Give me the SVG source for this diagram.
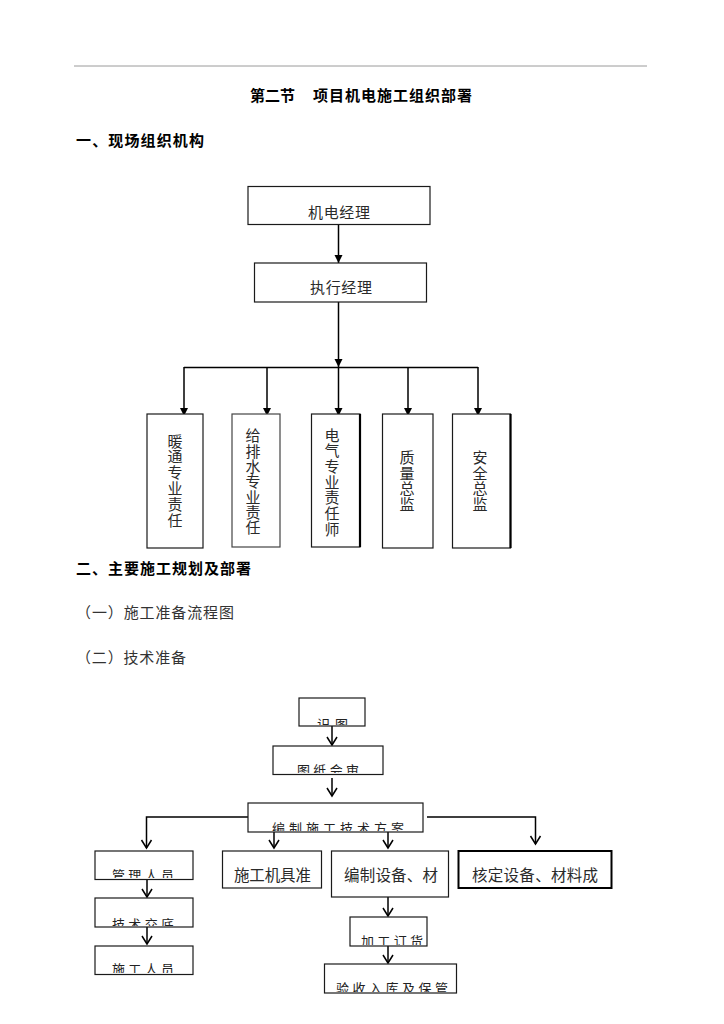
<svg xmlns="http://www.w3.org/2000/svg" width="724" height="1024" viewBox="0 0 724 1024">
<style>
text{font-family:"Noto Sans CJK SC","Noto Sans",sans-serif;fill:#1a1a1a}
.h{font-weight:bold;font-size:15px;fill:#000}
.p{font-size:15px;fill:#333}
.n{font-size:15px;fill:#2a2a2a}
.c{font-size:13px;fill:#222}
.bx{fill:#fff;stroke:#1a1a1a;stroke-width:1.2}
.bx2{fill:#fff;stroke:#000;stroke-width:2}
.ln{fill:none;stroke:#000;stroke-width:1.5}
.vc{text-anchor:middle}
</style>
<defs>
<marker id="tri" markerUnits="userSpaceOnUse" markerWidth="9" markerHeight="9" refX="8" refY="4" orient="auto">
<path d="M0,0 L8,4 L0,8 Z" fill="#000"/>
</marker>
<marker id="vee" markerUnits="userSpaceOnUse" markerWidth="12" markerHeight="14" refX="9" refY="6" orient="auto">
<path d="M1,1 L9,6 L1,11" fill="none" stroke="#000" stroke-width="1.5"/>
</marker>
<clipPath id="k1"><rect x="299" y="698" width="66" height="27"/></clipPath>
<clipPath id="k2"><rect x="273" y="746" width="110" height="27"/></clipPath>
<clipPath id="k3"><rect x="248" y="803" width="175" height="28"/></clipPath>
<clipPath id="k4"><rect x="95" y="851" width="98" height="27"/></clipPath>
<clipPath id="k5"><rect x="95" y="898" width="98" height="28"/></clipPath>
<clipPath id="k6"><rect x="95" y="946" width="98" height="27"/></clipPath>
<clipPath id="k7"><rect x="350" y="917" width="77" height="28"/></clipPath>
<clipPath id="k8"><rect x="325" y="964" width="132" height="28"/></clipPath>
</defs>

<line x1="74" y1="66" x2="647" y2="66" stroke="#9a9a9a" stroke-width="1"/>

<g id="headings">
<text class="h" x="250" y="101" textLength="45">第二节</text>
<text class="h" x="313" y="101" textLength="159">项目机电施工组织部署</text>
<text class="h" x="76" y="145.5" textLength="128">一、现场组织机构</text>
<text class="h" x="76" y="573.5" textLength="175">二、主要施工规划及部署</text>
<text class="p" x="76" y="617.5" textLength="158">（一）施工准备流程图</text>
<text class="p" x="76" y="662.5" textLength="110">（二）技术准备</text>
</g>

<g id="connectors">
<line class="ln" x1="338.5" y1="225" x2="338.5" y2="263" marker-end="url(#tri)"/>
<line class="ln" x1="338.5" y1="302" x2="338.5" y2="367" marker-end="url(#tri)"/>
<line class="ln" x1="184" y1="367.5" x2="478" y2="367.5"/>
<line class="ln" x1="184" y1="367" x2="184" y2="416" marker-end="url(#tri)"/>
<line class="ln" x1="267" y1="367" x2="267" y2="416" marker-end="url(#tri)" stroke="#333" stroke-width="1.2"/>
<line class="ln" x1="338.5" y1="367" x2="338.5" y2="416" marker-end="url(#tri)"/>
<line class="ln" x1="408" y1="367" x2="408" y2="416" marker-end="url(#tri)"/>
<line class="ln" x1="478" y1="367" x2="478" y2="416" marker-end="url(#tri)" stroke="#444" stroke-width="1.2"/>

<line class="ln" x1="332" y1="726" x2="332" y2="745" marker-end="url(#vee)"/>
<line class="ln" x1="332" y1="778" x2="332" y2="796" marker-end="url(#vee)"/>
<polyline class="ln" points="248,817 146.5,817 146.5,848" marker-end="url(#vee)"/>
<polyline class="ln" points="427,817 535.5,817 535.5,844" marker-end="url(#vee)"/>
<line class="ln" x1="274" y1="832" x2="274" y2="848" marker-end="url(#vee)"/>
<line class="ln" x1="388" y1="832" x2="388" y2="848" marker-end="url(#vee)"/>
<line class="ln" x1="147" y1="880" x2="147" y2="897" marker-end="url(#vee)"/>
<line class="ln" x1="147" y1="927" x2="147" y2="944" marker-end="url(#vee)"/>
<line class="ln" x1="388" y1="897" x2="388" y2="916" marker-end="url(#vee)"/>
<line class="ln" x1="388" y1="946" x2="388" y2="963" marker-end="url(#vee)"/>
</g>

<g id="n-jidianjingli">
<rect class="bx" x="248" y="186.5" width="182" height="38"/>
<text class="n" x="308" y="217.5" textLength="62">机电经理</text>
</g>
<g id="n-zhixingjingli">
<rect class="bx" x="254.5" y="263" width="172" height="39"/>
<text class="n" x="310" y="292.5" textLength="62">执行经理</text>
</g>

<g id="n-nuantong">
<rect class="bx" x="147" y="414" width="56" height="134"/>
<text class="n vc"><tspan x="175" y="446.5">暖</tspan><tspan x="175" y="462.3">通</tspan><tspan x="175" y="478.1">专</tspan><tspan x="175" y="493.9">业</tspan><tspan x="175" y="509.7">责</tspan><tspan x="175" y="525.5">任</tspan></text>
</g>
<g id="n-geipaishui">
<rect class="bx" x="232" y="414" width="48" height="133" style="stroke:#444"/>
<text class="n vc"><tspan x="253" y="441.3">给</tspan><tspan x="253" y="456.6">排</tspan><tspan x="253" y="471.9">水</tspan><tspan x="253" y="487.2">专</tspan><tspan x="253" y="502.5">业</tspan><tspan x="253" y="517.8">责</tspan><tspan x="253" y="533.1">任</tspan></text>
</g>
<g id="n-dianqi">
<rect class="bx" x="311.5" y="414" width="48.5" height="133"/>
<line x1="360" y1="414" x2="360" y2="547" stroke="#000" stroke-width="2.2"/>
<text class="n vc"><tspan x="332" y="440.6">电</tspan><tspan x="332" y="456.3">气</tspan><tspan x="332" y="472">专</tspan><tspan x="332" y="487.7">业</tspan><tspan x="332" y="503.4">责</tspan><tspan x="332" y="519.1">任</tspan><tspan x="332" y="534.8">师</tspan></text>
</g>
<g id="n-zhiliang">
<rect class="bx" x="382.5" y="414" width="50.5" height="134"/>
<text class="n vc"><tspan x="407" y="463.4">质</tspan><tspan x="407" y="478.9">量</tspan><tspan x="407" y="494.4">总</tspan><tspan x="407" y="509.9">监</tspan></text>
</g>
<g id="n-anquan">
<rect class="bx" x="452.5" y="414" width="58" height="134"/>
<line x1="510.5" y1="414" x2="510.5" y2="548" stroke="#000" stroke-width="2.2"/>
<text class="n vc"><tspan x="480" y="463.4">安</tspan><tspan x="480" y="478.9">全</tspan><tspan x="480" y="494.4">总</tspan><tspan x="480" y="509.9">监</tspan></text>
</g>

<g id="n-shitu">
<rect class="bx" x="299" y="698" width="66" height="28"/>
<text class="c" x="317" y="728.5" textLength="31" clip-path="url(#k1)">识图</text>
</g>
<g id="n-tuzhihuishen">
<rect class="bx" x="273" y="746" width="110" height="28.5"/>
<text class="c" x="297" y="775" textLength="62" clip-path="url(#k2)">图纸会审</text>
</g>
<g id="n-bianzhifangan">
<rect class="bx" x="248" y="803" width="175" height="29"/>
<text class="c" x="272" y="833" textLength="132" clip-path="url(#k3)">编制施工技术方案</text>
</g>
<g id="n-guanlirenyuan">
<rect class="bx" x="95" y="851" width="98" height="28.5"/>
<text class="c" x="112" y="879.5" textLength="62" clip-path="url(#k4)">管理人员</text>
</g>
<g id="n-jishujiaodi">
<rect class="bx" x="95" y="898" width="98" height="29"/>
<text class="c" x="112" y="928.5" textLength="62" clip-path="url(#k5)">技术交底</text>
</g>
<g id="n-shigongrenyuan">
<rect class="bx" x="95" y="946" width="98" height="28.5"/>
<text class="c" x="112" y="974" textLength="62" clip-path="url(#k6)">施工人员</text>
</g>
<g id="n-jijuzhun">
<rect class="bx" x="222.5" y="851" width="99" height="37"/>
<text class="n" x="234" y="881" textLength="77" style="font-size:15.5px">施工机具准</text>
</g>
<g id="n-shebeicai">
<rect class="bx" x="331.5" y="851" width="117" height="46"/>
<text class="n" x="344" y="881" textLength="94" style="font-size:15.5px">编制设备、材</text>
</g>
<g id="n-hedingshebei">
<rect class="bx2" x="458.5" y="851" width="153" height="37"/>
<text class="n" x="472" y="881" textLength="126" style="font-size:15.5px">核定设备、材料成</text>
</g>
<g id="n-jiagongdinghuo">
<rect class="bx" x="350" y="917" width="77" height="29"/>
<text class="c" x="361" y="945.5" textLength="62" clip-path="url(#k7)">加工订货</text>
</g>
<g id="n-yanshouruku">
<rect class="bx" x="324.5" y="964" width="132" height="29"/>
<text class="c" x="336" y="992.5" textLength="112" clip-path="url(#k8)">验收入库及保管</text>
</g>
</svg>
